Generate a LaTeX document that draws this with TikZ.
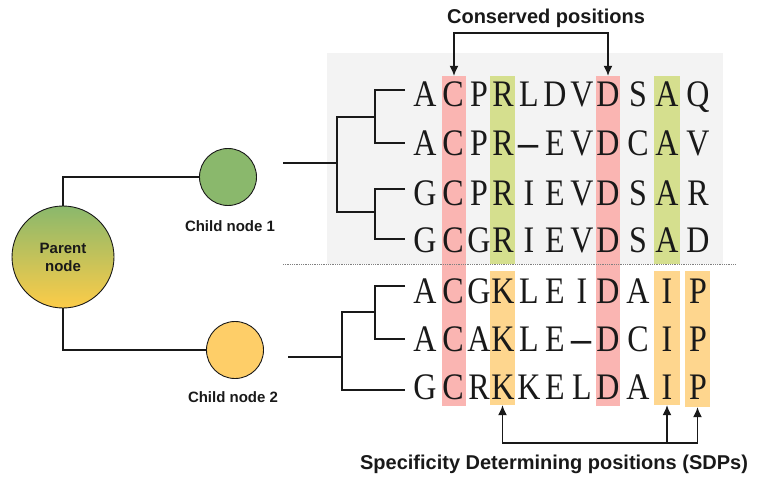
\documentclass[tikz,border=0pt]{standalone}
\usepackage{fontspec}
\usepackage{graphicx}
\setmainfont{Liberation Serif}
\setsansfont{Liberation Sans}
\usetikzlibrary{arrows.meta}
\definecolor{cons}{RGB}{250,181,178}
\definecolor{subgreen}{RGB}{213,223,142}
\definecolor{sdp}{RGB}{254,214,142}
\definecolor{panel}{RGB}{243,243,243}
\definecolor{leafgreen}{RGB}{138,184,108}
\definecolor{leafyellow}{RGB}{254,206,104}
\definecolor{rootmid}{RGB}{205,204,86}
\definecolor{rootlow}{RGB}{253,204,72}
\definecolor{ink}{RGB}{25,25,25}
\newcommand{\gapdash}{\scalebox{1.25}[1]{\textbf{--}}}
\newcommand{\tallres}[1]{\scalebox{1}[1.17]{#1}}
\tikzset{
  res/.style={anchor=base, inner sep=0pt, text=ink, font=\fontsize{32}{32}\selectfont},
  hl/.style={rectangle, inner sep=0pt, minimum width=#1},
  tree/.style={line width=2.6pt, draw=ink},
  link/.style={line width=1.3pt, draw=ink},
  arr/.style={line width=1.3pt, draw=ink, {Latex[length=10pt,width=9pt]}-{Latex[length=10pt,width=9pt]}},
  lbl/.style={font=\sffamily\bfseries\fontsize{20}{24}\selectfont, text=ink},
  small/.style={font=\sffamily\bfseries\fontsize{15}{18}\selectfont, text=ink},
  leaf/.style={circle, draw=ink, line width=0.9pt, minimum size=57pt, inner sep=0pt}
}
\begin{document}
\begin{tikzpicture}[x=1pt,y=-1pt]
\useasboundingbox (0,0) rectangle (760,484);
\def\colx{{425,453,479,503,529,555,582,608,638,667,698}}
\def\rowy{{107,156,205,252,303,351,399}}
% panel of the first clade
\fill[panel] (327,53) rectangle (723,264);
% highlighted columns
\node[hl=24, fill=cons, minimum height=330] (colC) at (454,241) {};
\node[hl=24, fill=cons, minimum height=330] (colD) at (608,241) {};
\node[hl=25, fill=subgreen, minimum height=188] (colR) at (502.5,170) {};
\node[hl=26, fill=subgreen, minimum height=188] (colA) at (667,170) {};
\node[hl=25, fill=sdp, minimum height=134] (colK) at (502.5,338) {};
\node[hl=26, fill=sdp, minimum height=134] (colI) at (667,338) {};
\node[hl=25, fill=sdp, minimum height=136] (colP) at (697.5,339) {};
\draw[gray, densely dotted, line width=0.8pt] (283,264) -- (735,264);
% alignment
\foreach \seq [count=\r] in {{A,C,P,R,L,D,V,D,S,A,Q},{A,C,P,R,\gapdash,E,V,D,C,A,V},
    {G,C,P,R,I,E,V,D,S,A,R},{G,C,G,R,I,E,V,D,S,A,D},
    {A,C,G,K,L,E,I,D,A,I,P},{A,C,A,K,L,E,\gapdash,D,C,I,P},{G,C,R,K,K,E,L,D,A,I,P}}{
  \foreach \aa [count=\c] in \seq {
    \pgfmathsetmacro\cx{\colx[\c-1]}
    \pgfmathsetmacro\cy{\rowy[\r-1]}
    \node[res] (s\r-\c) at (\cx,\cy) {\tallres{\aa}};
  }
}
% trees of the two clades
\draw[tree] (283,163) -- (337,163);
\draw[tree] (375,117) -| (337,212) -- (375,212);
\draw[tree] (405,90) -| (375,143) -- (405,143);
\draw[tree] (405,189) -| (375,239) -- (405,239);
\draw[tree] (288,357) -- (342,357);
\draw[tree] (375,312) -| (342,390) -- (405,390);
\draw[tree] (405,286) -| (375,339) -- (405,339);
% nodes
\node[circle, draw=ink, line width=0.9pt, minimum size=102pt, inner sep=0pt, align=center,
  top color=leafgreen, middle color=rootmid, bottom color=rootlow, small] (parent) at (63,257) {Parent\\node};
\node[leaf, fill=leafgreen] (child1) at (228,177) {};
\node[leaf, fill=leafyellow] (child2) at (235,350) {};
\node[small] (lab1) at (230,226) {Child node 1};
\node[small] (lab2) at (233,397) {Child node 2};
\draw[link] (parent.north) |- (child1.west);
\draw[link] (parent.south) |- (child2.west);
% conserved and SDP markers
\node[lbl] (cons) at (546,18) {Conserved positions};
\coordinate (consbar) at (530,33);
\draw[arr] (colC.north) |- (consbar) -| (colD.north);
\node[lbl] (sdps) at (554,464) {Specificity Determining positions (SDPs)};
\coordinate (sdpbar) at (600,443);
\draw[arr] (colK.south) |- (sdpbar) -| (colP.south);
\draw[arr, {Latex[length=10pt,width=9pt]}-] (colI.south) -- (colI.south |- sdpbar);
\end{tikzpicture}
\end{document}
